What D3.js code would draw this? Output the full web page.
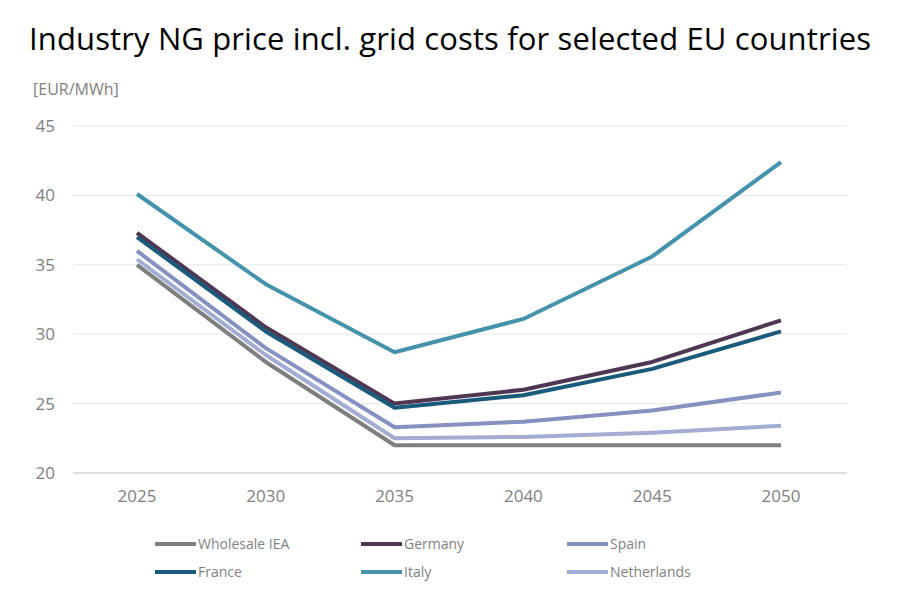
<!DOCTYPE html><html><head><meta charset="utf-8">
<script src="https://cdn.jsdelivr.net/npm/d3@7"></script>
<style>body{margin:0;background:#fff}</style></head><body>
<svg id="c" width="907" height="603"></svg>
<script>
const years=[2025,2030,2035,2040,2045,2050];
const yTicks=[20,25,30,35,40,45];
const names=["Wholesale IEA","Germany","Spain","France","Italy","Netherlands"];
const colors=["#7f7f7f","#4f3652","#8591c0","#1a5a7a","#4493ab","#a3acd3"];
const wholesale=[35,28,22,22,22,22];
const germany=[37.3,30.5,25,26,28,31];
const spain=[36,29,23.3,23.7,24.5,25.8];
const france=[37,30.2,24.7,25.6,27.5,30.2];
const italy=[40.1,33.6,28.7,31.1,35.6,42.4];
const netherlands=[35.4,28.5,22.5,22.6,22.9,23.4];
const series=[wholesale,germany,spain,france,italy,netherlands];
const drawOrder=[5,0,2,1,3,4];
const svg=d3.select("#c");
const x=d3.scalePoint().domain(years).range([137,781]);
const y=d3.scaleLinear().domain([20,45]).range([473,126]);
const font="'Open Sans',sans-serif";
svg.append("text").attr("x",450).attr("y",50).attr("text-anchor","middle").attr("font-family",font).attr("font-size",31).attr("textLength",842).attr("fill","#000").text("Industry NG price incl. grid costs for selected EU countries");
svg.append("text").attr("x",33).attr("y",95).attr("font-family",font).attr("font-size",16).attr("fill","#7f7f7f").text("[EUR/MWh]");
const g=svg.append("g");
yTicks.forEach(t=>{
 g.append("line").attr("x1",73).attr("x2",847).attr("y1",y(t)).attr("y2",y(t)).attr("stroke",t==20?"#bfbfbf":"#e8e8e8").attr("stroke-width",1);
 g.append("text").attr("x",55).attr("y",y(t)+6).attr("text-anchor","end").attr("font-family",font).attr("font-size",17).attr("fill","#7f7f7f").text(t);
});
years.forEach(yr=>g.append("text").attr("x",x(yr)).attr("y",502).attr("text-anchor","middle").attr("font-family",font).attr("font-size",17).attr("fill","#7f7f7f").text(yr));
const line=d3.line().x((d,i)=>x(years[i])).y(d=>y(d));
drawOrder.forEach(i=>g.append("path").attr("d",line(series[i])).attr("fill","none").attr("stroke",colors[i]).attr("stroke-width",4).attr("stroke-linejoin","round"));
names.forEach((n,i)=>{
 const cx=155+206*(i%3), cy=i<3?544:572;
 svg.append("line").attr("x1",cx).attr("x2",cx+41).attr("y1",cy).attr("y2",cy).attr("stroke",colors[i]).attr("stroke-width",4);
 svg.append("text").attr("x",cx+43).attr("y",cy+5).attr("font-family",font).attr("font-size",14).attr("fill","#7f7f7f").text(n);
});
</script></body></html>
